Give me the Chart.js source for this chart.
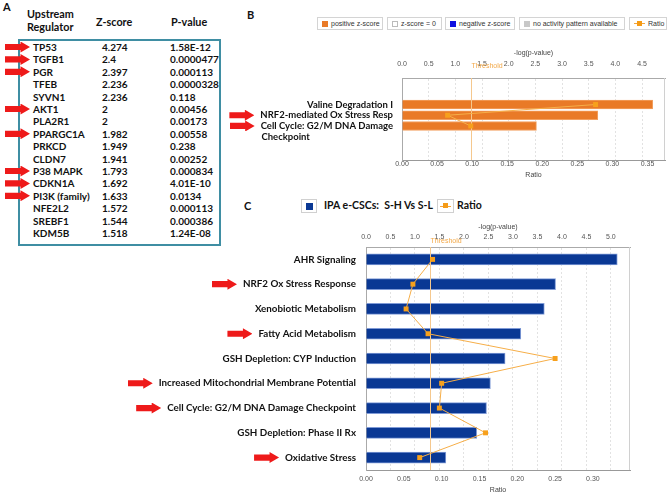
<!DOCTYPE html>
<html>
<head>
<meta charset="utf-8">
<script src="https://cdn.jsdelivr.net/npm/chart.js@4.4.1/dist/chart.umd.min.js"></script>
<style>
    body { margin: 0; background: #fff; }
    #page { position: relative; width: 669px; height: 495px; overflow: hidden; font-family: Lato, "Open Sans", sans-serif; color: #111; }
    .pos { position: absolute; white-space: nowrap; }
    .panel { font: bold 11px Lato, sans-serif; line-height: 13px; }
    .hdr { font: bold 10.8px Lato, sans-serif; line-height: 13px; }
    .cell { position: absolute; white-space: nowrap; font: bold 10px Lato, sans-serif; line-height: 12px; }
    .arrow { position: absolute; width: 25px; height: 11px; background: #ee1a1a;
             clip-path: polygon(0 22%, 62% 22%, 62% 0, 100% 50%, 62% 100%, 62% 78%, 0 78%); }
    #boxA { position: absolute; left: 18px; top: 39px; width: 199px; height: 203px; border: 2px solid #3f8ea3; }
    .lgB { position: absolute; top: 17px; height: 13px; border: 1px solid #d4d4d4; box-sizing: border-box;
           font: 7px "Liberation Sans", Arial, sans-serif; color: #333; line-height: 11px; padding-left: 4px; white-space: nowrap; }
    .sw { display: inline-block; width: 6px; height: 6px; margin-right: 3px; vertical-align: -0.5px; box-sizing: border-box; }
    .rl { display: inline-block; position: relative; width: 11px; height: 6px; margin-right: 3px; vertical-align: -0.5px; }
    .rl::before { content: ""; position: absolute; left: 0; right: 0; top: 2.5px; height: 1px; background: #f5a53a; }
    .rl::after { content: ""; position: absolute; left: 3px; top: 0; width: 5px; height: 5px; background: #f59b16; }
    .lgC { position: absolute; top: 199px; height: 14px; border: 1px solid #d0d0d0; box-sizing: border-box; }
    .lgCt { position: absolute; top: 198px; font: bold 10.5px Lato, sans-serif; line-height: 14px; white-space: nowrap; }
    canvas { position: absolute; }
</style>
</head>
<body>
<div id="page">
    <div class="pos panel" style="left:3px;top:0px">A</div>
    <div class="pos hdr" style="left:27px;top:7px">Upstream<br>Regulator</div>
    <div class="pos hdr" style="left:96px;top:15px">Z-score</div>
    <div class="pos hdr" style="left:171px;top:15px">P-value</div>
    <div id="boxA"></div>
    <div id="rowsA"></div>

    <div class="pos panel" style="left:247px;top:8px">B</div>
    <div class="lgB" style="left:317px;width:66px"><span class="sw" style="background:#e97a27"></span>positive z-score</div>
    <div class="lgB" style="left:387px;width:55px"><span class="sw" style="border:1px solid #bbb;background:#fff"></span>z-score = 0</div>
    <div class="lgB" style="left:445px;width:70px"><span class="sw" style="background:#1010e0"></span>negative z-score</div>
    <div class="lgB" style="left:519px;width:106px"><span class="sw" style="background:#c8c8c8"></span>no activity pattern available</div>
    <div class="lgB" style="left:629px;width:38px"><span class="rl"></span>Ratio</div>
    <canvas id="chartB" width="439" height="142" style="left:230px;top:40px"></canvas>

    <div class="pos panel" style="left:244px;top:199px">C</div>
    <div class="lgC" style="left:301px;width:16px"><span style="position:absolute;left:4px;top:3px;width:7px;height:7px;background:#0a3894"></span></div>
    <div class="lgCt" style="left:324px">IPA e-CSCs:&nbsp; S-H Vs S-L</div>
    <div class="lgC" style="left:437px;width:17px"><span class="rl" style="position:absolute;left:2px;top:3px"></span></div>
    <div class="lgCt" style="left:457px">Ratio</div>
    <canvas id="chartC" width="569" height="283" style="left:100px;top:212px"></canvas>
    <div id="arrows"></div>
</div>

<script>
// panel A table
const regulators = ['TP53', 'TGFB1', 'PGR', 'TFEB', 'SYVN1', 'AKT1', 'PLA2R1', 'PPARGC1A',
    'PRKCD', 'CLDN7', 'P38 MAPK', 'CDKN1A', 'PI3K (family)', 'NFE2L2', 'SREBF1', 'KDM5B'];
const zScores = [4.274, 2.4, 2.397, 2.236, 2.236, 2, 2, 1.982, 1.949, 1.941, 1.793, 1.692, 1.633, 1.572, 1.544, 1.518];
const pValues = ['1.58E-12', '0.0000477', '0.000113', '0.0000328', '0.118', '0.00456', '0.00173', '0.00558',
    '0.238', '0.00252', '0.000834', '4.01E-10', '0.0134', '0.000113', '0.000386', '1.24E-08'];
const tableArrows = ['TP53', 'TGFB1', 'PGR', 'AKT1', 'PPARGC1A', 'P38 MAPK', 'CDKN1A', 'PI3K (family)'];

// panel B
const bLabels = ['Valine Degradation I', 'NRF2-mediated Ox Stress Resp', 'Cell Cycle: G2/M DNA Damage Checkpoint'];
const bLogP = [4.70, 3.67, 2.52];
const bRatio = [0.276, 0.065, 0.098];
const bArrows = [false, true, true];

// panel C
const cLabels = ['AHR Signaling', 'NRF2 Ox Stress Response', 'Xenobiotic Metabolism', 'Fatty Acid Metabolism',
    'GSH Depletion: CYP Induction', 'Increased Mitochondrial Membrane Potential',
    'Cell Cycle: G2/M DNA Damage Checkpoint', 'GSH Depletion: Phase II Rx', 'Oxidative Stress'];
const cLogP = [5.13, 3.87, 3.64, 3.16, 2.84, 2.54, 2.46, 2.26, 1.63];
const cRatio = [0.088, 0.062, 0.053, 0.082, 0.250, 0.100, 0.097, 0.158, 0.071];
const cArrows = [false, true, false, true, false, true, true, false, true];

const threshold = 1.3;

const rowsA = document.getElementById('rowsA');
regulators.forEach((name, i) => {
    const y = 47 + i * 12.4;
    [[name, 33], [String(zScores[i]), 102], [pValues[i], 170]].forEach(([t, x]) => {
        const d = document.createElement('div');
        d.className = 'cell';
        d.style.left = x + 'px';
        d.style.top = (y - 6) + 'px';
        d.textContent = t;
        rowsA.appendChild(d);
    });
    if (tableArrows.includes(name)) addArrow(5, y);
});

function addArrow(x, y) {
    const a = document.createElement('div');
    a.className = 'arrow';
    a.style.left = x + 'px';
    a.style.top = (y - 5.5) + 'px';
    document.getElementById('arrows').appendChild(a);
}

const labelFontB = { family: 'Lato', size: 9.5, weight: 'bold' };
const labelFontC = { family: 'Lato', size: 9.8, weight: 'bold' };
const tickFont = { family: '"Liberation Sans", Arial, sans-serif', size: 7 };

// B label with wrapped second line left-aligned
const measureCtx = document.createElement('canvas').getContext('2d');
measureCtx.font = 'bold 9.5px Lato';
function padRight(text, width) {
    let s = text;
    while (measureCtx.measureText(s + ' ').width <= width) s += ' ';
    return s;
}
const bTickText = [
    bLabels[0],
    bLabels[1],
    ['', 'Cell Cycle: G2/M DNA Damage', padRight('Checkpoint', measureCtx.measureText('Cell Cycle: G2/M DNA Damage').width)]
];

const framePlugin = {
    id: 'frame',
    beforeDatasetsDraw(chart) {
        const { ctx, chartArea: a } = chart;
        ctx.save();
        ctx.strokeStyle = '#d0d0d0';
        ctx.lineWidth = 1;
        ctx.beginPath();
        ctx.moveTo(a.right - 0.5, a.top);
        ctx.lineTo(a.right - 0.5, a.bottom);
        ctx.stroke();
        ctx.restore();
    },
    afterDatasetDraw(chart, args, opts) {
        if (chart.data.datasets[args.index].type !== 'bar') return;
        const { ctx, chartArea: a, scales } = chart;
        const x = Math.round(scales.xp.getPixelForValue(threshold)) + 0.5;
        ctx.save();
        ctx.strokeStyle = '#f5c88e';
        ctx.lineWidth = 1;
        ctx.beginPath();
        ctx.moveTo(x, a.top);
        ctx.lineTo(x, a.bottom);
        ctx.stroke();
        ctx.fillStyle = '#f2a848';
        ctx.font = '7px "Liberation Sans", Arial, sans-serif';
        ctx.textBaseline = 'middle';
        ctx.fillText('Threshold', x, a.top - opts.labelGap);
        ctx.restore();
    }
};

function axisX(pos, max, step, digits, height, tickPad, title, titlePad) {
    return {
        type: 'linear', position: pos, min: 0, max: max, bounds: 'data',
        ticks: { stepSize: step, includeBounds: false, padding: tickPad, color: '#555', font: tickFont,
                 callback: v => v.toFixed(digits) },
        grid: pos === 'top' ? { color: '#e2e2e2', drawTicks: false } : { display: false, drawTicks: false },
        border: pos === 'top' ? { color: '#aaa', dash: [2, 2] } : { color: '#999' },
        title: { display: true, text: title, color: '#444', font: tickFont, padding: titlePad },
        afterFit: s => { s.height = height; }
    };
}

const chartB = new Chart(document.getElementById('chartB'), {
    type: 'bar',
    data: {
        datasets: [
            {
                type: 'line', label: 'Ratio', order: 0, indexAxis: 'y',
                data: bRatio.map((v, i) => ({ x: v, y: i })),
                xAxisID: 'xr', yAxisID: 'y',
                borderColor: '#f6ae48', borderWidth: 1,
                pointStyle: 'rect', pointRadius: 3.5,
                pointBackgroundColor: '#f7a01c', pointBorderColor: '#f7a01c', pointBorderWidth: 0
            },
            {
                type: 'bar', label: 'positive z-score', order: 1,
                data: bLogP.map((v, i) => ({ x: v, y: i })),
                xAxisID: 'xp', yAxisID: 'y',
                backgroundColor: '#e97a27', borderColor: '#f2a060', borderWidth: 1, barThickness: 9
            }
        ]
    },
    options: {
        indexAxis: 'y',
        responsive: false,
        animation: false,
        layout: { padding: { left: 0, right: 2, top: 0, bottom: 0 } },
        plugins: { legend: { display: false }, tooltip: { enabled: false }, frame: { labelGap: 12 } },
        scales: {
            xp: axisX('top', 4.93, 0.5, 1, 38, 10, '-log(p-value)', { top: 8.8, bottom: 0 }),
            xr: axisX('bottom', 0.375, 0.05, 2, 22, 0, 'Ratio', { top: 0, bottom: 2.8 }),
            y: {
                type: 'linear', min: -1.2, max: 3.9, reverse: true, bounds: 'data',
                afterBuildTicks: s => { s.ticks = bLabels.map((_, i) => ({ value: i })); },
                ticks: { padding: 9, color: '#111', font: labelFontB, autoSkip: false, callback: v => bTickText[v] },
                grid: { display: false, drawTicks: false },
                border: { color: '#aaa' },
                afterFit: s => { s.width = 172; }
            }
        }
    },
    plugins: [framePlugin]
});

const chartC = new Chart(document.getElementById('chartC'), {
    type: 'bar',
    data: {
        labels: cLabels,
        datasets: [
            {
                type: 'line', label: 'Ratio', order: 0, indexAxis: 'y',
                data: cRatio, xAxisID: 'xr', yAxisID: 'y',
                borderColor: '#f6ae48', borderWidth: 1,
                pointStyle: 'rect', pointRadius: 3.5,
                pointBackgroundColor: '#f7a01c', pointBorderColor: '#f7a01c', pointBorderWidth: 0
            },
            {
                type: 'bar', label: 'IPA e-CSCs: S-H Vs S-L', order: 1,
                data: cLogP, xAxisID: 'xp', yAxisID: 'y',
                backgroundColor: '#0a3894', borderColor: '#7f9ad6', borderWidth: 1, barThickness: 11
            }
        ]
    },
    options: {
        indexAxis: 'y',
        responsive: false,
        animation: false,
        layout: { padding: { left: 0, right: 39, top: 0, bottom: 0 } },
        plugins: { legend: { display: false }, tooltip: { enabled: false }, frame: { labelGap: 6 } },
        scales: {
            xp: axisX('top', 5.39, 0.5, 1, 35, 5.8, '-log(p-value)', { top: 10.8, bottom: 0 }),
            xr: axisX('bottom', 0.349, 0.05, 2, 25, 4.8, 'Ratio', { top: 0, bottom: 0.8 }),
            y: {
                type: 'category', offset: true,
                ticks: { padding: 10, color: '#111', font: labelFontC, autoSkip: false },
                grid: { display: false, drawTicks: false, offset: true },
                border: { color: '#aaa' },
                afterFit: s => { s.width = 266; }
            }
        }
    },
    plugins: [framePlugin]
});

// red arrows beside flagged pathway labels
function placeArrows(chart, texts, flags, left, top, font) {
    const y = chart.scales.y;
    const xRight = y.right - y.options.ticks.padding;
    measureCtx.font = font;
    flags.forEach((f, i) => {
        if (!f) return;
        const t = Array.isArray(texts[i]) ? texts[i][1] : texts[i];
        const w = measureCtx.measureText(t).width;
        addArrow(left + xRight - w - 6 - 25, top + y.getPixelForValue(i));
    });
}
placeArrows(chartB, bTickText, bArrows, 230, 40, 'bold 9.5px Lato');
placeArrows(chartC, cLabels, cArrows, 100, 212, 'bold 9.8px Lato');
</script>
</body>
</html>
